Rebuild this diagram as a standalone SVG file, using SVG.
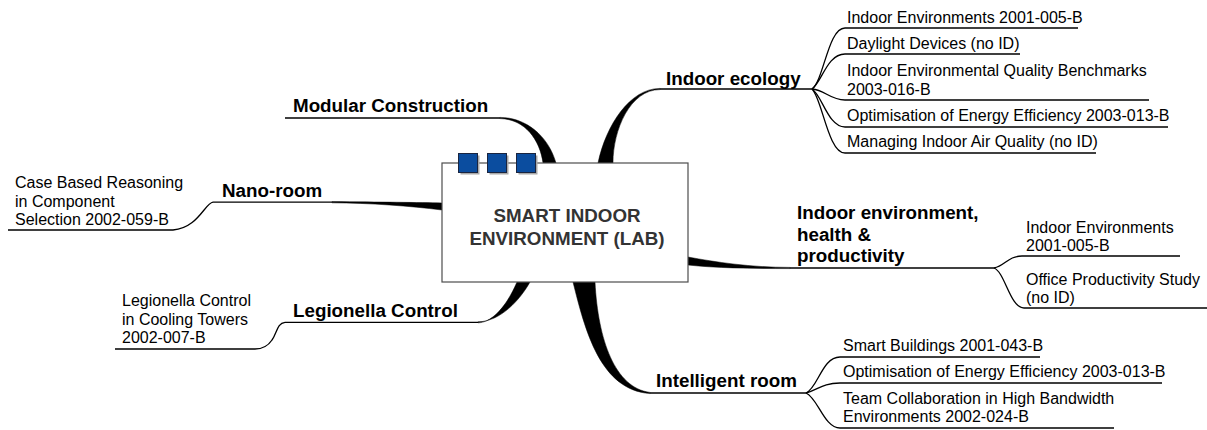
<svg xmlns="http://www.w3.org/2000/svg" width="1207" height="430" viewBox="0 0 1207 430">
<style>
.lbl{font-family:"Liberation Sans",Arial,sans-serif;font-weight:bold;font-size:18.8px;fill:#000}
.sub{font-family:"Liberation Sans",Arial,sans-serif;font-size:16px;fill:#000}
.ctr{font-family:"Liberation Sans",Arial,sans-serif;font-weight:bold;font-size:18.8px;fill:#333;text-anchor:middle}
.ln{fill:none;stroke:#000;stroke-width:1.3}
.thick{fill:#000;stroke:#000;stroke-width:0.5}
.sq{fill:#0B4D9F;stroke:#1a2540;stroke-width:1}
.sh{fill:#a8a8a8}
</style>
<rect width="1207" height="430" fill="#fff"/>
<g id="connectors">
  <!-- thick main connectors -->
  <path class="thick" d="M500,117.4 C525,117.4 548,135 556,163 L543,163 C540,140 525,119 500,118.6 Z"/>
  <path class="thick" d="M660,88.4 C630,88.4 606,125 598,163 L613,163 C613,130 630,89.6 660,89.6 Z"/>
  <path class="thick" d="M332,201.6 C380,202 420,202.5 442,203 L442,210 C410,206 370,203 332,202.8 Z"/>
  <path class="thick" d="M688,257 C715,262 750,267.4 790,267.4 L790,268.6 C750,268.6 715,268 688,265 Z"/>
  <path class="thick" d="M478,322.8 C490,322.8 505,310 517,282 L530,282 C520,300 500,321.8 478,321.8 Z"/>
  <path class="thick" d="M573,282 C585,330 600,390 650,393.6 L650,392.4 C615,388 598,340 595,282 Z"/>
  <!-- main label underlines -->
  <path class="ln" d="M285,118 H500"/>
  <path class="ln" d="M660,89 H812"/>
  <path class="ln" d="M213,202.2 H332"/>
  <path class="ln" d="M790,268 H994"/>
  <path class="ln" d="M285,322.3 H478"/>
  <path class="ln" d="M650,393 H806"/>
  <!-- Indoor ecology subs -->
  <path class="ln" d="M812,89 C824,80 828,28 845,28 H1078"/>
  <path class="ln" d="M812,89 C822,82 827,54 845,54 H1020"/>
  <path class="ln" d="M812,89 C825,90 830,100 845,100 H1149"/>
  <path class="ln" d="M812,89 C822,95 828,127 845,127 H1168"/>
  <path class="ln" d="M812,89 C822,98 828,153 845,153 H1096"/>
  <!-- Indoor environment subs -->
  <path class="ln" d="M994,268 C1005,266 1008,256 1022,256 H1180"/>
  <path class="ln" d="M994,268 C1005,272 1010,308 1024,308 H1207"/>
  <!-- Intelligent room subs -->
  <path class="ln" d="M806,393 C818,388 822,357 840,357 H1040"/>
  <path class="ln" d="M806,393 C818,390 822,383 840,383 H1162"/>
  <path class="ln" d="M806,393 C818,398 824,428 840,428 H1114"/>
  <!-- Nano-room sub -->
  <path class="ln" d="M213,202.2 C205,203 198,228 173,230 H8"/>
  <!-- Legionella sub -->
  <path class="ln" d="M285,322.3 C277,323 277,333 272,340 C268,346 262,349 255,349 H115"/>
</g>
<g id="center">
  <rect x="442" y="163" width="246" height="119" fill="#fff" stroke="#4d4d4d" stroke-width="1.2"/>
  <rect class="sh" x="460.5" y="155.5" width="19" height="19"/>
  <rect class="sh" x="489.5" y="155.5" width="19" height="19"/>
  <rect class="sh" x="518.5" y="155.5" width="19" height="19"/>
  <rect class="sq" x="458.5" y="153.5" width="19" height="19"/>
  <rect class="sq" x="487.5" y="153.5" width="19" height="19"/>
  <rect class="sq" x="516.5" y="153.5" width="19" height="19"/>
  <text class="ctr" x="567" y="222">SMART INDOOR</text>
  <text class="ctr" x="567" y="245">ENVIRONMENT (LAB)</text>
</g>
<g id="modular">
  <text class="lbl" x="293" y="112">Modular Construction</text>
</g>
<g id="indoor-ecology">
  <text class="lbl" x="666" y="85">Indoor ecology</text>
</g>
<g id="ie-1"><text class="sub" x="847" y="23">Indoor Environments 2001-005-B</text></g>
<g id="ie-2"><text class="sub" x="847" y="49">Daylight Devices (no ID)</text></g>
<g id="ie-3"><text class="sub" x="847" y="76">Indoor Environmental Quality Benchmarks</text><text class="sub" x="847" y="94.5">2003-016-B</text></g>
<g id="ie-4"><text class="sub" x="847" y="121">Optimisation of Energy Efficiency 2003-013-B</text></g>
<g id="ie-5"><text class="sub" x="847" y="147">Managing Indoor Air Quality (no ID)</text></g>
<g id="indoor-environment">
  <text class="lbl" x="797" y="219">Indoor environment,</text>
  <text class="lbl" x="797" y="240.5">health &amp;</text>
  <text class="lbl" x="797" y="262">productivity</text>
</g>
<g id="env-1"><text class="sub" x="1026" y="233">Indoor Environments</text><text class="sub" x="1026" y="251.4">2001-005-B</text></g>
<g id="env-2"><text class="sub" x="1026" y="285">Office Productivity Study</text><text class="sub" x="1026" y="303.4">(no ID)</text></g>
<g id="intelligent-room">
  <text class="lbl" x="656" y="387">Intelligent room</text>
</g>
<g id="ir-1"><text class="sub" x="843" y="351">Smart Buildings 2001-043-B</text></g>
<g id="ir-2"><text class="sub" x="843" y="377">Optimisation of Energy Efficiency 2003-013-B</text></g>
<g id="ir-3"><text class="sub" x="843" y="404">Team Collaboration in High Bandwidth</text><text class="sub" x="843" y="422.4">Environments 2002-024-B</text></g>
<g id="nano-room">
  <text class="lbl" x="222" y="197">Nano-room</text>
</g>
<g id="nano-1"><text class="sub" x="15" y="188">Case Based Reasoning</text><text class="sub" x="15" y="206.5">in Component</text><text class="sub" x="15" y="225">Selection 2002-059-B</text></g>
<g id="legionella">
  <text class="lbl" x="293" y="317">Legionella Control</text>
</g>
<g id="leg-1"><text class="sub" x="122" y="306">Legionella Control</text><text class="sub" x="122" y="324.5">in Cooling Towers</text><text class="sub" x="122" y="343">2002-007-B</text></g>
</svg>
